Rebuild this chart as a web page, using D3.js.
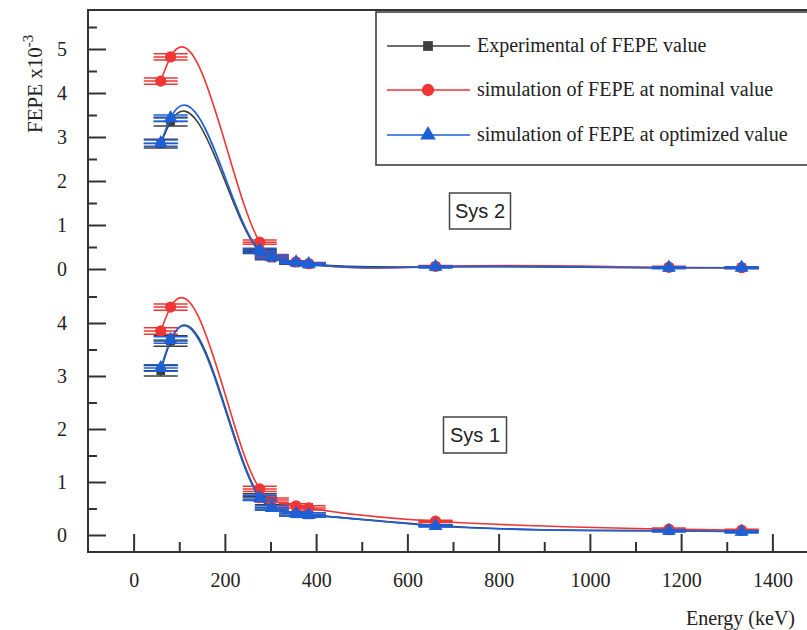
<!DOCTYPE html>
<html>
<head>
<meta charset="utf-8">
<script src="https://cdn.jsdelivr.net/npm/d3@7"></script>
<style>
    body { margin: 0; background: #fff; }
    svg { display: block; }
    svg text { font-family: "Liberation Serif", "Times New Roman", serif; }
    svg text.sys { font-family: "Liberation Sans", Arial, sans-serif; }
</style>
</head>
<body>
<div id="chart"></div>
<script>
// gamma lines (keV)
const energies = [59.5, 81.0, 276.4, 302.9, 356.0, 383.8, 661.7, 1173.2, 1332.5];

// Sys 1 (lower panel), FEPE x10^-3
const sys1Experimental = [3.10, 3.66, 0.72, 0.52, 0.40, 0.38, 0.18, 0.08, 0.07];
const sys1Nominal      = [3.85, 4.30, 0.87, 0.66, 0.55, 0.51, 0.26, 0.11, 0.09];
const sys1Optimized    = [3.15, 3.68, 0.70, 0.51, 0.40, 0.38, 0.17, 0.08, 0.06];
const sys1ExpErr = [0.10, 0.10, 0.06, 0.05, 0.04, 0.04, 0.02, 0.02, 0.02];
const sys1NomErr = [0.06, 0.06, 0.05, 0.04, 0.04, 0.04, 0.02, 0.02, 0.02];
const sys1OptErr = [0.06, 0.06, 0.05, 0.04, 0.04, 0.04, 0.02, 0.02, 0.02];

// Sys 2 (upper panel)
const sys2Experimental = [2.85, 3.35, 0.40, 0.25, 0.14, 0.11, 0.05, 0.03, 0.03];
const sys2Nominal      = [4.27, 4.82, 0.61, 0.29, 0.16, 0.12, 0.06, 0.04, 0.03];
const sys2Optimized    = [2.86, 3.43, 0.42, 0.27, 0.15, 0.11, 0.05, 0.03, 0.03];
const sys2ExpErr = [0.10, 0.10, 0.05, 0.04, 0.03, 0.03, 0.02, 0.02, 0.02];
const sys2NomErr = [0.07, 0.07, 0.05, 0.04, 0.03, 0.03, 0.02, 0.02, 0.02];
const sys2OptErr = [0.07, 0.07, 0.05, 0.04, 0.03, 0.03, 0.02, 0.02, 0.02];

const xTicks = [0, 200, 400, 600, 800, 1000, 1200, 1400];
const xMinorTicks = [100, 300, 500, 700, 900, 1100, 1300];
const sys1Ticks = [0, 1, 2, 3, 4];
const sys1MinorTicks = [0.5, 1.5, 2.5, 3.5, 4.5];
const sys2Ticks = [0, 1, 2, 3, 4, 5];
const sys2MinorTicks = [0.5, 1.5, 2.5, 3.5, 4.5, 5.5];

const seriesNames = [
    "Experimental of FEPE value",
    "simulation of FEPE at nominal value",
    "simulation of FEPE at optimized value"
];

const width = 807;
const height = 630;
const axisColor = "#333";
const colors = ["#3d3d3d", "#f03535", "#1d5fd6"];
const symbols = [d3.symbolSquare, d3.symbolCircle, d3.symbolTriangle];
const symbolSizes = [75, 100, 85];
const capHalf = 17;

// natural cubic spline in x, written as a d3 curve (one bezier per segment)
function curveSplineX(context) {
    let pts;
    return {
        areaStart() {},
        areaEnd() {},
        lineStart() { pts = []; },
        point(px, py) { pts.push([+px, +py]); },
        lineEnd() {
            const n = pts.length;
            if (!n) return;
            context.moveTo(pts[0][0], pts[0][1]);
            if (n < 3) {
                pts.slice(1).forEach(p => context.lineTo(p[0], p[1]));
                return;
            }
            const h = [], a = [], b = [], c = [], r = [];
            for (let i = 0; i < n - 1; i++) h.push(pts[i + 1][0] - pts[i][0]);
            // second derivatives, natural ends
            const M = new Array(n).fill(0);
            for (let i = 1; i < n - 1; i++) {
                a[i] = h[i - 1];
                b[i] = 2 * (h[i - 1] + h[i]);
                c[i] = h[i];
                r[i] = 6 * ((pts[i + 1][1] - pts[i][1]) / h[i] - (pts[i][1] - pts[i - 1][1]) / h[i - 1]);
            }
            for (let i = 2; i < n - 1; i++) {
                const w = a[i] / b[i - 1];
                b[i] -= w * c[i - 1];
                r[i] -= w * r[i - 1];
            }
            for (let i = n - 2; i >= 1; i--) {
                M[i] = (r[i] - (i < n - 2 ? c[i] * M[i + 1] : 0)) / b[i];
            }
            for (let i = 0; i < n - 1; i++) {
                const [x0, y0] = pts[i], [x1, y1] = pts[i + 1];
                const s = (y1 - y0) / h[i];
                const m0 = s - h[i] * (2 * M[i] + M[i + 1]) / 6;
                const m1 = s + h[i] * (M[i] + 2 * M[i + 1]) / 6;
                context.bezierCurveTo(x0 + h[i] / 3, y0 + m0 * h[i] / 3,
                                      x1 - h[i] / 3, y1 - m1 * h[i] / 3, x1, y1);
            }
        }
    };
}

const svg = d3.select("#chart")
    .append("svg")
    .attr("width", width)
    .attr("height", height);

const x = d3.scaleLinear().domain([-100, 1500]).range([88, 818]);
const yLower = d3.scaleLinear().domain([0, 4]).range([535, 323]);
const yUpper = d3.scaleLinear().domain([0, 5]).range([269, 49]);

const frameTop = 10;
const frameBottom = 552;

// frame
svg.append("rect")
    .attr("x", x(-100))
    .attr("y", frameTop)
    .attr("width", x(1500) - x(-100))
    .attr("height", frameBottom - frameTop)
    .attr("fill", "none")
    .attr("stroke", axisColor)
    .attr("stroke-width", 2);

function styleAxis(g) {
    g.attr("font-family", null).attr("font-size", 20);
    g.select(".domain").remove();
    g.selectAll(".tick line").attr("stroke", axisColor).attr("stroke-width", 2);
    g.selectAll(".tick text").attr("fill", "#222");
}

// x axis, ticks pointing inward
svg.append("g")
    .attr("transform", `translate(0,${frameBottom})`)
    .call(d3.axisBottom(x).tickValues(xTicks).tickFormat(d3.format("d"))
        .tickSizeInner(-18).tickSizeOuter(0).tickPadding(21))
    .call(styleAxis);

svg.append("g")
    .attr("transform", `translate(0,${frameBottom})`)
    .call(d3.axisBottom(x).tickValues(xMinorTicks).tickSizeInner(-10).tickSizeOuter(0).tickFormat(""))
    .call(styleAxis);

// y axes for both panels
[[yLower, sys1Ticks, sys1MinorTicks], [yUpper, sys2Ticks, sys2MinorTicks]].forEach(([y, major, minor]) => {
    svg.append("g")
        .attr("transform", `translate(${x(-100)},0)`)
        .call(d3.axisLeft(y).tickValues(major).tickFormat(d3.format("d"))
            .tickSizeInner(-18).tickSizeOuter(0).tickPadding(21))
        .call(styleAxis);

    svg.append("g")
        .attr("transform", `translate(${x(-100)},0)`)
        .call(d3.axisLeft(y).tickValues(minor).tickSizeInner(-9).tickSizeOuter(0).tickFormat(""))
        .call(styleAxis);
});

// axis titles
const yTitle = svg.append("text")
    .attr("transform", "translate(42,133) rotate(-90)")
    .attr("fill", "#222")
    .attr("font-size", 21);
yTitle.append("tspan").text("FEPE x10");
yTitle.append("tspan").attr("dy", -9).attr("font-size", 15).text("-3");

svg.append("text")
    .attr("x", 795)
    .attr("y", 625)
    .attr("text-anchor", "end")
    .attr("fill", "#222")
    .attr("font-size", 20)
    .text("Energy (keV)");

// panels
const panels = [
    { y: yLower, series: [sys1Experimental, sys1Nominal, sys1Optimized], errors: [sys1ExpErr, sys1NomErr, sys1OptErr] },
    { y: yUpper, series: [sys2Experimental, sys2Nominal, sys2Optimized], errors: [sys2ExpErr, sys2NomErr, sys2OptErr] }
];

panels.forEach(panel => {
    const y = panel.y;
    panel.series.forEach((values, s) => {
        const data = energies.map((e, i) => ({ e, v: values[i], err: panel.errors[s][i] }));
        const g = svg.append("g");

        const line = d3.line()
            .x(d => x(d.e))
            .y(d => y(d.v))
            .curve(curveSplineX);

        g.append("path")
            .datum(data)
            .attr("fill", "none")
            .attr("stroke", colors[s])
            .attr("stroke-width", 1.6)
            .attr("d", line);

        // error bars: caps, centre bar and vertical span
        const bars = g.selectAll(".err")
            .data(data)
            .enter()
            .append("g")
            .attr("stroke", colors[s])
            .attr("stroke-width", 1.5);

        [-1, 0, 1].forEach(k => {
            bars.append("line")
                .attr("x1", d => x(d.e) - capHalf)
                .attr("x2", d => x(d.e) + capHalf)
                .attr("y1", d => y(d.v + k * d.err))
                .attr("y2", d => y(d.v + k * d.err));
        });

        bars.append("line")
            .attr("x1", d => x(d.e))
            .attr("x2", d => x(d.e))
            .attr("y1", d => y(d.v - d.err))
            .attr("y2", d => y(d.v + d.err));

        g.selectAll(".marker")
            .data(data)
            .enter()
            .append("path")
            .attr("transform", d => `translate(${x(d.e)},${y(d.v)})`)
            .attr("d", d3.symbol().type(symbols[s]).size(symbolSizes[s]))
            .attr("fill", colors[s]);
    });
});

// system labels
[["Sys 2", 480, 211, 61], ["Sys 1", 475, 435, 63]].forEach(([label, cx, cy, w]) => {
    svg.append("rect")
        .attr("x", cx - w / 2)
        .attr("y", cy - 18)
        .attr("width", w)
        .attr("height", 36)
        .attr("fill", "#fff")
        .attr("stroke", "#444")
        .attr("stroke-width", 1.5);
    svg.append("text")
        .attr("class", "sys")
        .attr("x", cx)
        .attr("y", cy + 7)
        .attr("text-anchor", "middle")
        .attr("fill", "#222")
        .attr("font-size", 20)
        .text(label);
});

// legend
const legend = svg.append("g");
legend.append("rect")
    .attr("x", 376)
    .attr("y", 12)
    .attr("width", 460)
    .attr("height", 153)
    .attr("fill", "#fff")
    .attr("stroke", axisColor)
    .attr("stroke-width", 1.5);

const legendRows = [46, 90, 135];
seriesNames.forEach((name, i) => {
    const row = legend.append("g").attr("transform", `translate(0,${legendRows[i]})`);
    row.append("line")
        .attr("x1", 387)
        .attr("x2", 470)
        .attr("stroke", colors[i])
        .attr("stroke-width", 1.5);
    row.append("path")
        .attr("transform", "translate(428,0)")
        .attr("d", d3.symbol().type(symbols[i]).size(symbolSizes[i] + 20))
        .attr("fill", colors[i]);
    row.append("text")
        .attr("x", 477)
        .attr("y", 6)
        .attr("fill", "#222")
        .attr("font-size", 20)
        .text(name);
});
</script>
</body>
</html>
